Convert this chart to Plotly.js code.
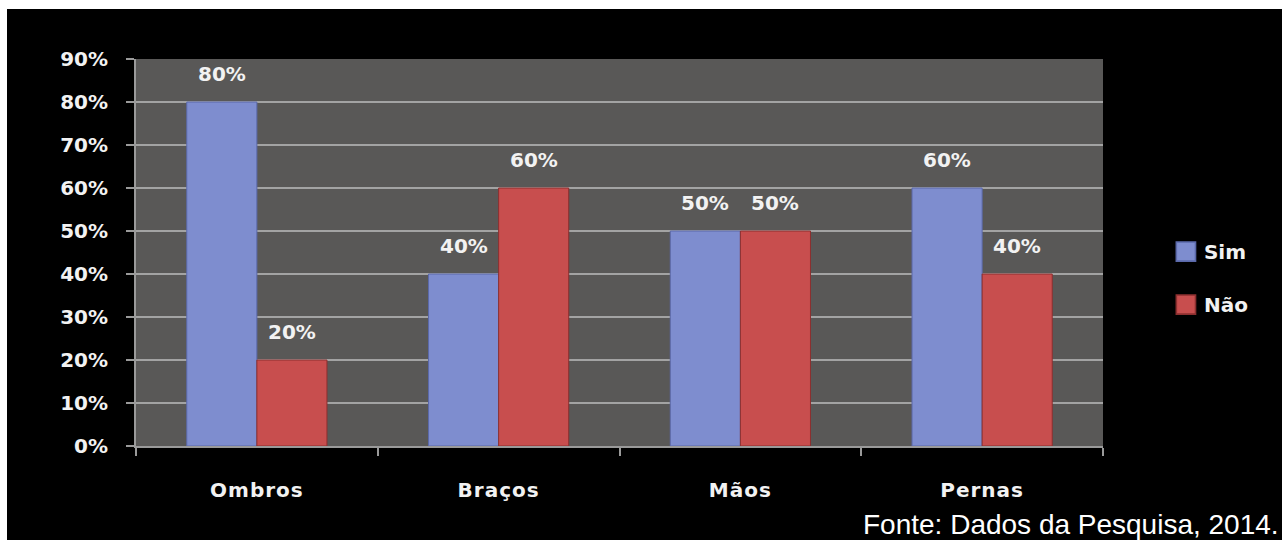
<!DOCTYPE html>
<html>
<head>
<meta charset="utf-8">
<script src="https://cdn.plot.ly/plotly-3.0.1.min.js"></script>
<style>
  html, body { margin: 0; padding: 0; background: #ffffff; width: 1285px; height: 540px; overflow: hidden; }
  #grafico { position: absolute; left: 7px; top: 9px; width: 1275px; height: 531px; }
  #grafico .xtick text { letter-spacing: 1px; }
  #grafico .legendpoints path { transform: translate(22px, 0px) scale(1.6); }
</style>
</head>
<body>
<div id="grafico"></div>
<script>
// Dados por região do corpo
const categorias = ['Ombros', 'Braços', 'Mãos', 'Pernas'];
const sim = [80, 40, 50, 60];
const nao = [20, 60, 50, 40];
const nomes = ['Sim', 'Não'];
const fonte = 'Fonte: Dados da Pesquisa, 2014.';

const corSim = '#7e8dcf';
const corNao = '#c84e4e';
const bargap = 0.42;

const fonteNegrito = { family: 'DejaVu Sans', size: 20, color: '#f2f2f2', weight: 'bold' };

const traces = [
  {
    type: 'bar', name: nomes[0], x: categorias, y: sim, legendgroup: 'a',
    marker: { color: corSim, line: { color: '#5b69aa', width: 1 } },
    hoverinfo: 'skip'
  },
  {
    type: 'bar', name: nomes[1], x: categorias, y: nao, legendgroup: 'b',
    marker: { color: corNao, line: { color: '#8c2f2f', width: 1 } },
    hoverinfo: 'skip'
  }
];

// Rótulos de valor acima de cada barra
const larguraBarra = (1 - bargap) / 2;
const rotulos = [];
[sim, nao].forEach((serie, s) => {
  const desloc = (s === 0 ? -1 : 1) * larguraBarra / 2;
  serie.forEach((v, i) => {
    rotulos.push({
      x: i + desloc, y: v, xref: 'x', yref: 'y',
      text: v + '%', showarrow: false,
      yanchor: 'bottom', yshift: 14,
      font: fonteNegrito
    });
  });
});

// Nota de fonte no canto inferior direito
rotulos.push({
  xref: 'paper', yref: 'paper', x: 1.184, y: -0.158,
  xanchor: 'right', yanchor: 'top',
  text: fonte, showarrow: false,
  font: { family: 'Liberation Sans', size: 28, color: '#ffffff' }
});

const layout = {
  width: 1275, height: 531,
  paper_bgcolor: '#000000',
  plot_bgcolor: '#595857',
  margin: { l: 129, r: 179, t: 50, b: 94 },
  barmode: 'group',
  bargap: bargap,
  bargroupgap: 0,
  showlegend: true,
  legend: {
    x: 1.063, y: 0.434, xanchor: 'left', yanchor: 'middle',
    font: fonteNegrito, bgcolor: 'rgba(0,0,0,0)',
    traceorder: 'grouped', tracegroupgap: 24
  },
  xaxis: {
    type: 'category',
    showline: true, linecolor: '#9a9a9a', linewidth: 2,
    ticks: 'outside', tickson: 'boundaries', ticklen: 8, tickwidth: 2, tickcolor: '#9a9a9a',
    ticklabelstandoff: 25,
    tickfont: fonteNegrito,
    showgrid: false, zeroline: false, fixedrange: true
  },
  yaxis: {
    range: [0, 90], dtick: 10, ticksuffix: '%',
    showline: true, linecolor: '#9a9a9a', linewidth: 2,
    ticks: 'outside', ticklen: 8, tickwidth: 2, tickcolor: '#9a9a9a',
    ticklabelstandoff: 14,
    tickfont: fonteNegrito,
    showgrid: true, gridcolor: '#a3a3a3', gridwidth: 2,
    zeroline: false, fixedrange: true
  },
  annotations: rotulos
};

Plotly.newPlot('grafico', traces, layout, { staticPlot: true, displayModeBar: false });
</script>
</body>
</html>
